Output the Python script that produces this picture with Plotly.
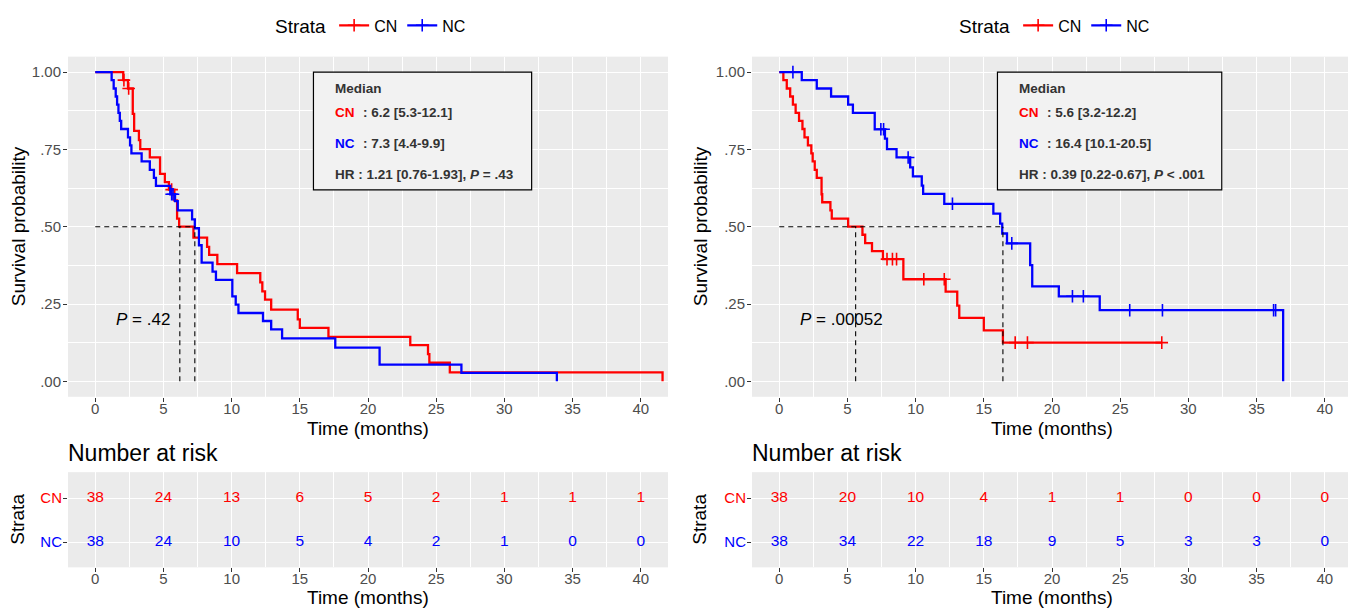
import plotly.graph_objects as go
import numpy as np

# The page body adds an 8px margin, so the figure is sized to fit the 1356x609 window exactly
OFF = 8
W, H = 1356 - OFF, 609 - OFF
FONT = "Liberation Sans, Arial, sans-serif"
RED = "#FF0000"
BLUE = "#0000FF"
PANEL = "#EBEBEB"
TICKC = "#4D4D4D"

# ---------------- Panel A data ----------------
a_cn_t = [0, 2.05, 2.4, 2.75, 2.85, 3.2, 3.3, 4.0, 4.75, 5.1, 5.4, 5.8, 6.0, 6.15, 7.2, 8.2, 8.35, 8.95,
          10.4, 12.1, 12.25, 12.45, 12.9, 14.85, 15.0, 17.1, 23.1, 24.4, 24.5, 26.0, 41.6]
a_cn_s = [1.0, .974, .947, .865, .81, .78, .751, .724, .671, .644, .62, .585, .526, .5, .465, .435, .409, .379,
          .35, .32, .291, .264, .232, .2, .173, .144, .117, .088, .06, .029, 0]
a_cn_cens = [2.1, 2.45, 5.6]
a_nc_t = [0, 1.2, 1.35, 1.5, 1.6, 1.7, 1.8, 1.9, 2.4, 2.55, 2.65, 3.4, 4.0, 4.3, 4.45, 5.5, 5.85, 6.05, 7.1, 7.3,
          7.6, 7.8, 8.6, 8.85, 10.05, 10.3, 10.5, 12.3, 12.9, 13.7, 17.6, 20.85, 26.85, 33.85]
a_nc_s = [1.0, .974, .947, .921, .895, .868, .842, .816, .789, .763, .737, .711, .684, .658, .632, .605, .583, .553,
          .524, .495, .44, .384, .355, .328, .275, .248, .221, .195, .168, .139, .109, .054, .027, 0]
a_nc_cens = [5.6, 5.7]
a_medians = [6.2, 7.3]
a_med_txt = ["6.2 [5.3-12.1]", "7.3 [4.4-9.9]"]
a_hr_txt = "1.21 [0.76-1.93]"
a_hr_p = "= .43"
a_logrank_p = ".42"

# ---------------- Panel B data ----------------
b_cn_t = [0, 0.3, 0.55, 0.8, 1.0, 1.2, 1.45, 1.7, 1.85, 2.1, 2.35, 2.45, 2.6, 2.75, 3.1, 3.15, 3.75, 3.85, 5.05,
          6.1, 6.3, 6.8, 7.6, 9.1, 12.2, 13.05, 13.2, 15.0, 16.4]
b_cn_s = [1.0, .974, .947, .921, .895, .868, .842, .816, .789, .763, .737, .711, .684, .658, .605, .579, .553, .526,
          .5, .474, .447, .421, .395, .33, .29, .245, .205, .165, .125]
b_cn_cens = [7.9, 8.3, 8.6, 10.6, 12.1, 17.3, 18.2, 28.05]
b_cn_end = 28.05
b_nc_t = [0, 1.65, 2.75, 3.8, 5.05, 5.4, 7.0, 7.75, 7.9, 8.6, 9.6, 9.8, 10.45, 10.55, 12.1, 15.7, 16.2, 16.35,
          16.7, 18.4, 18.55, 20.5, 23.5, 36.95]
b_nc_s = [1.0, .974, .947, .921, .895, .868, .815, .785, .751, .724, .692, .663, .633, .606, .574, .542, .51, .478,
          .446, .376, .307, .275, .23, 0]
b_nc_cens = [1.0, 7.45, 7.65, 9.45, 12.7, 17.05, 21.5, 22.3, 25.7, 28.1, 36.25, 36.4]
b_medians = [5.6, 16.4]
b_med_txt = ["5.6 [3.2-12.2]", "16.4 [10.1-20.5]"]
b_hr_txt = "0.39 [0.22-0.67]"
b_hr_p = "&lt; .001"
b_logrank_p = ".00052"

# ---------------- Risk tables ----------------
risk_times = [0, 5, 10, 15, 20, 25, 30, 35, 40]
a_risk_cn = [38, 24, 13, 6, 5, 2, 1, 1, 1]
a_risk_nc = [38, 24, 10, 5, 4, 2, 1, 0, 0]
b_risk_cn = [38, 20, 10, 4, 1, 1, 0, 0, 0]
b_risk_nc = [38, 34, 22, 18, 9, 5, 3, 3, 0]

strata = ["CN", "NC"]
x_ticks = [0, 5, 10, 15, 20, 25, 30, 35, 40]
y_ticks = [0, 0.25, 0.5, 0.75, 1.0]
y_ticktext = [".00", ".25", ".50", ".75", "1.00"]


def step_value(t, s, tc):
    idx = np.searchsorted(np.asarray(t), tc, side="right") - 1
    return [s[i] for i in idx]


fig = go.Figure()

panels = [
    dict(km="x", kmy="y", rx="x2", ry="y2", legend="legend",
         cn=(a_cn_t, a_cn_s, a_cn_cens, None), nc=(a_nc_t, a_nc_s, a_nc_cens, None),
         risk=(a_risk_cn, a_risk_nc)),
    dict(km="x3", kmy="y3", rx="x4", ry="y4", legend="legend2",
         cn=(b_cn_t, b_cn_s, b_cn_cens, b_cn_end), nc=(b_nc_t, b_nc_s, b_nc_cens, None),
         risk=(b_risk_cn, b_risk_nc)),
]

for p in panels:
    for name, col, key in [("CN", RED, "cn"), ("NC", BLUE, "nc")]:
        t, s, cens, end = p[key]
        tt, ss = list(t), list(s)
        if end is not None:
            tt.append(end)
            ss.append(ss[-1])
        fig.add_trace(go.Scatter(x=tt, y=ss, mode="lines", line=dict(color=col, width=2.3, shape="hv"),
                                 xaxis=p["km"], yaxis=p["kmy"], showlegend=False, hoverinfo="skip"))
        fig.add_trace(go.Scatter(x=cens, y=step_value(t, s, cens), mode="markers",
                                 marker=dict(symbol="cross-thin", size=9, line=dict(color=col, width=1.6)),
                                 xaxis=p["km"], yaxis=p["kmy"], showlegend=False, hoverinfo="skip"))
    for name, col in [("CN", RED), ("NC", BLUE)]:
        fig.add_trace(go.Scatter(x=[None], y=[None], mode="lines+markers", name=name,
                                 line=dict(color=col, width=2.3),
                                 marker=dict(symbol="cross-thin", size=9, line=dict(color=col, width=1.6)),
                                 xaxis=p["km"], yaxis=p["kmy"], legend=p["legend"]))
    for vals, col, yv in [(p["risk"][0], RED, 2), (p["risk"][1], BLUE, 1)]:
        fig.add_trace(go.Scatter(x=risk_times, y=[yv] * len(risk_times), mode="text",
                                 text=[str(v) for v in vals],
                                 textfont=dict(color=col, size=15.5, family=FONT),
                                 xaxis=p["rx"], yaxis=p["ry"], showlegend=False, hoverinfo="skip"))


# pixel positions below are in window pixels; convert to figure paper fractions
def px_x(px):
    return (px - OFF) / W


def px_y(py):
    return 1 - (py - OFF) / H


xl = [px_x(68), px_x(668)]
xr = [px_x(752), px_x(1352)]
ykm = [px_y(395), px_y(52)]
yrk = [px_y(567), px_y(471)]

common_x = dict(range=[-2, 42], tickvals=x_ticks, ticks="outside", ticklen=4, tickwidth=1.1,
                tickcolor="#333333", showline=False, zeroline=False, showgrid=True,
                gridcolor="white", gridwidth=1.1, ticklabelstandoff=-6,
                minor=dict(dtick=2.5, tick0=2.5, showgrid=True, gridcolor="white", gridwidth=0.5, ticks=""),
                tickfont=dict(size=15, color=TICKC, family=FONT), fixedrange=True)
km_y = dict(range=[-0.05, 1.05], tickvals=y_ticks, ticktext=y_ticktext, ticks="outside", ticklen=4,
            tickwidth=1.1, tickcolor="#333333", showline=False, zeroline=False, showgrid=True,
            gridcolor="white", gridwidth=1.1, ticklabelstandoff=-1,
            minor=dict(dtick=0.125, tick0=0.125, showgrid=True, gridcolor="white", gridwidth=0.5, ticks=""),
            tickfont=dict(size=15, color=TICKC, family=FONT))
risk_y = dict(range=[0.43, 2.59], tickvals=[1, 2],
              ticktext=[f"<span style='color:{BLUE}'>{strata[1]}</span>",
                        f"<span style='color:{RED}'>{strata[0]}</span>"],
              ticks="outside", ticklen=4, tickwidth=1.1, tickcolor="#333333", showline=False,
              zeroline=False, showgrid=True, gridcolor="white", gridwidth=1.1, ticklabelstandoff=-2,
              tickfont=dict(size=15, family=FONT))

fig.update_layout(
    width=W, height=H, margin=dict(l=0, r=0, t=0, b=0),
    paper_bgcolor="white", plot_bgcolor=PANEL,
    font=dict(family=FONT, color="black"),
    xaxis=dict(domain=xl, anchor="y", **common_x),
    yaxis=dict(domain=ykm, anchor="x", **km_y),
    xaxis2=dict(domain=xl, anchor="y2", **common_x),
    yaxis2=dict(domain=yrk, anchor="x2", **risk_y),
    xaxis3=dict(domain=xr, anchor="y3", **common_x),
    yaxis3=dict(domain=ykm, anchor="x3", **km_y),
    xaxis4=dict(domain=xr, anchor="y4", **common_x),
    yaxis4=dict(domain=yrk, anchor="x4", **risk_y),
    legend=dict(orientation="h", x=px_x(372), xanchor="center", y=px_y(21), yanchor="middle",
                title=dict(text="Strata", side="left", font=dict(size=19, family=FONT)),
                font=dict(size=16, family=FONT), itemwidth=30, bgcolor="rgba(0,0,0,0)"),
    legend2=dict(orientation="h", x=px_x(1056), xanchor="center", y=px_y(21), yanchor="middle",
                 title=dict(text="Strata", side="left", font=dict(size=19, family=FONT)),
                 font=dict(size=16, family=FONT), itemwidth=30, bgcolor="rgba(0,0,0,0)"),
)

shapes = []
annotations = []
panel_info = [
    ("x", "y", a_medians, a_med_txt, a_hr_txt, a_hr_p, a_logrank_p, 68, 18, 32.0),
    ("x3", "y3", b_medians, b_med_txt, b_hr_txt, b_hr_p, b_logrank_p, 752, 700, 32.45),
]
for xa, ya, meds, mtxt, hrt, hrp, lp, left_px, ytitle_px, box_x1 in panel_info:
    dash = dict(color="black", width=1.1, dash="5px,4px")
    shapes.append(dict(type="line", xref=xa, yref=ya, x0=0, x1=max(meds), y0=0.5, y1=0.5, line=dash))
    for m in meds:
        shapes.append(dict(type="line", xref=xa, yref=ya, x0=m, x1=m, y0=0, y1=0.5, line=dash))
    shapes.append(dict(type="rect", xref=xa, yref=ya, x0=16.0, x1=box_x1, y0=0.619, y1=1.0,
                       fillcolor="#F2F2F2", line=dict(color="black", width=1.2), layer="above"))
    tf = dict(size=13.5, color="#333333", family=FONT)
    annotations.append(dict(xref=xa, yref=ya, x=17.4, y=0.948, text="<b>Median</b>", showarrow=False,
                            xanchor="left", yanchor="middle", font=tf))
    for k, (lab, col, yy) in enumerate([("CN", RED, 0.868), ("NC", BLUE, 0.768)]):
        annotations.append(dict(xref=xa, yref=ya, x=17.4, y=yy, text=f"<b>{lab}</b>", showarrow=False,
                                xanchor="left", yanchor="middle", font=dict(size=13.5, color=col, family=FONT)))
        annotations.append(dict(xref=xa, yref=ya, x=19.45, y=yy, text=f"<b>: {mtxt[k]}</b>", showarrow=False,
                                xanchor="left", yanchor="middle", font=tf))
    annotations.append(dict(xref=xa, yref=ya, x=17.4, y=0.668, text=f"<b>HR : {hrt}, <i>P</i> {hrp}</b>",
                            showarrow=False, xanchor="left", yanchor="middle", font=tf))
    annotations.append(dict(xref=xa, yref=ya, x=1.4, y=0.2, text=f"<i>P</i> = {lp}", showarrow=False,
                            xanchor="left", yanchor="middle", font=dict(size=17, color="black", family=FONT)))
    cx = left_px + 300
    annotations.append(dict(xref="paper", yref="paper", x=px_x(cx), y=px_y(427), text="Time (months)",
                            showarrow=False, xanchor="center", yanchor="middle",
                            font=dict(size=19, color="black", family=FONT)))
    annotations.append(dict(xref="paper", yref="paper", x=px_x(cx), y=px_y(597), text="Time (months)",
                            showarrow=False, xanchor="center", yanchor="middle",
                            font=dict(size=19, color="black", family=FONT)))
    annotations.append(dict(xref="paper", yref="paper", x=px_x(left_px - 2), y=px_y(452), text="Number at risk",
                            showarrow=False, xanchor="left", yanchor="middle",
                            font=dict(size=23, color="black", family=FONT)))
    annotations.append(dict(xref="paper", yref="paper", x=px_x(ytitle_px), y=px_y(223),
                            text="Survival probability", textangle=-90, showarrow=False,
                            xanchor="center", yanchor="middle", font=dict(size=19, color="black", family=FONT)))
    annotations.append(dict(xref="paper", yref="paper", x=px_x(ytitle_px), y=px_y(519),
                            text="Strata", textangle=-90, showarrow=False,
                            xanchor="center", yanchor="middle", font=dict(size=19, color="black", family=FONT)))

fig.update_layout(shapes=shapes, annotations=annotations)
fig.write_html("out.html")
